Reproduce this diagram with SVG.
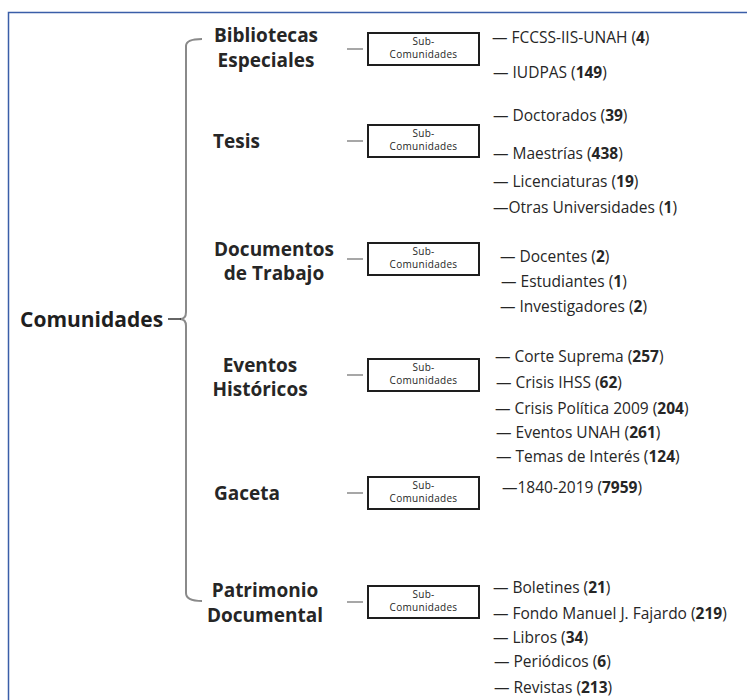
<svg xmlns="http://www.w3.org/2000/svg" width="747" height="700" viewBox="0 0 747 700">
<style>
.root{font-family:"Open Sans","Noto Sans","Liberation Sans",sans-serif;font-weight:700;font-size:21px;fill:#1f1f1f}
.cat{font-family:"Open Sans","Noto Sans","Liberation Sans",sans-serif;font-weight:700;font-size:19px;fill:#262626}
.box{fill:#fff;stroke:#1e1e1e;stroke-width:2}
.bt{font-family:"Open Sans","Noto Sans","Liberation Sans",sans-serif;font-size:10px;letter-spacing:0.3px;fill:#262626;text-anchor:middle}
.it{font-family:"Open Sans","Noto Sans","Liberation Sans",sans-serif;font-size:15.5px;fill:#262626}
.it tspan.b{font-weight:700}
.br{fill:none;stroke:#8a8a8a;stroke-width:2}
.ln{stroke:#8a8a8a;stroke-width:1.5}
</style>
<rect x="8.5" y="12.5" width="760" height="720" fill="#fff" stroke="#3a5ea8" stroke-width="1.5"/>

<g id="connectors">
<path class="br" d="M202,39 Q186,39 186,46 L186,312 Q186,319 180,319 Q186,319 186,326 L186,593 Q186,601 202,601"/>
<line x1="168" y1="319" x2="181" y2="319" stroke="#333" stroke-width="1.5"/>
<line class="ln" x1="347" y1="49" x2="363" y2="49"/>
<line class="ln" x1="347" y1="141" x2="363" y2="141"/>
<line class="ln" x1="347" y1="259" x2="363" y2="259"/>
<line class="ln" x1="347" y1="375" x2="363" y2="375"/>
<line class="ln" x1="347" y1="493" x2="363" y2="493"/>
<line class="ln" x1="347" y1="602" x2="363" y2="602"/>
</g>

<g id="root"><text class="root" x="20" y="327">Comunidades</text></g>

<g id="bibliotecas">
<text class="cat" text-anchor="middle" x="266" y="42">Bibliotecas</text>
<text class="cat" text-anchor="middle" x="266" y="67">Especiales</text>
<rect class="box" x="368" y="33" width="111" height="32"/>
<text class="bt" x="423.5" y="44.5">Sub-</text>
<text class="bt" x="423.5" y="58">Comunidades</text>
<text class="it" x="492" y="43">— FCCSS-IIS-UNAH (<tspan class="b">4</tspan>)</text>
<text class="it" x="493" y="78">— IUDPAS (<tspan class="b">149</tspan>)</text>
</g>

<g id="tesis">
<text class="cat" x="213" y="148">Tesis</text>
<rect class="box" x="368" y="125" width="111" height="32"/>
<text class="bt" x="423.5" y="136.5">Sub-</text>
<text class="bt" x="423.5" y="150">Comunidades</text>
<text class="it" x="493" y="121">— Doctorados (<tspan class="b">39</tspan>)</text>
<text class="it" x="493" y="159">— Maestrías (<tspan class="b">438</tspan>)</text>
<text class="it" x="493" y="187">— Licenciaturas (<tspan class="b">19</tspan>)</text>
<text class="it" x="493" y="213">—Otras Universidades (<tspan class="b">1</tspan>)</text>
</g>

<g id="documentos">
<text class="cat" text-anchor="middle" x="274" y="256">Documentos</text>
<text class="cat" text-anchor="middle" x="274" y="280">de Trabajo</text>
<rect class="box" x="368" y="243" width="111" height="32"/>
<text class="bt" x="423.5" y="254.5">Sub-</text>
<text class="bt" x="423.5" y="268">Comunidades</text>
<text class="it" x="500" y="262">— Docentes (<tspan class="b">2</tspan>)</text>
<text class="it" x="501" y="287">— Estudiantes (<tspan class="b">1</tspan>)</text>
<text class="it" x="500" y="312">— Investigadores (<tspan class="b">2</tspan>)</text>
</g>

<g id="eventos">
<text class="cat" text-anchor="middle" x="260" y="372">Eventos</text>
<text class="cat" text-anchor="middle" x="260" y="396">Históricos</text>
<rect class="box" x="368" y="359" width="111" height="32"/>
<text class="bt" x="423.5" y="370.5">Sub-</text>
<text class="bt" x="423.5" y="384">Comunidades</text>
<text class="it" x="495" y="362">— Corte Suprema (<tspan class="b">257</tspan>)</text>
<text class="it" x="496" y="388">— Crisis IHSS (<tspan class="b">62</tspan>)</text>
<text class="it" x="495" y="414">— Crisis Política 2009 (<tspan class="b">204</tspan>)</text>
<text class="it" x="496" y="438">— Eventos UNAH (<tspan class="b">261</tspan>)</text>
<text class="it" x="496" y="462">— Temas de Interés (<tspan class="b">124</tspan>)</text>
</g>

<g id="gaceta">
<text class="cat" x="214" y="500">Gaceta</text>
<rect class="box" x="368" y="477" width="111" height="32"/>
<text class="bt" x="423.5" y="488.5">Sub-</text>
<text class="bt" x="423.5" y="502">Comunidades</text>
<text class="it" x="502" y="493">—1840-2019 (<tspan class="b">7959</tspan>)</text>
</g>

<g id="patrimonio">
<text class="cat" text-anchor="middle" x="265" y="597">Patrimonio</text>
<text class="cat" text-anchor="middle" x="265" y="622">Documental</text>
<rect class="box" x="368" y="586" width="111" height="32"/>
<text class="bt" x="423.5" y="597.5">Sub-</text>
<text class="bt" x="423.5" y="611">Comunidades</text>
<text class="it" x="493" y="593">— Boletines (<tspan class="b">21</tspan>)</text>
<text class="it" x="493" y="619">— Fondo Manuel J. Fajardo (<tspan class="b">219</tspan>)</text>
<text class="it" x="493" y="643">— Libros (<tspan class="b">34</tspan>)</text>
<text class="it" x="494" y="667">— Periódicos (<tspan class="b">6</tspan>)</text>
<text class="it" x="494" y="693">— Revistas (<tspan class="b">213</tspan>)</text>
</g>
</svg>
